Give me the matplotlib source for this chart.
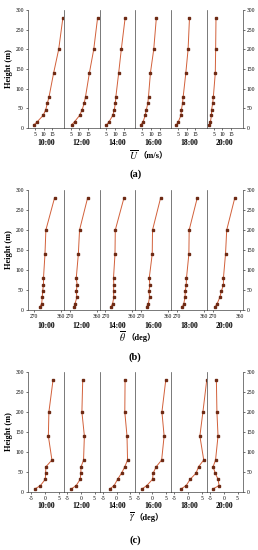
import numpy as np
import matplotlib
matplotlib.use('Agg')
import matplotlib.pyplot as plt

plt.rcParams['font.family'] = ['Liberation Serif', 'Noto Sans CJK SC']
plt.rcParams['mathtext.fontset'] = 'stix'
plt.rcParams['axes.unicode_minus'] = False

# measurement heights (m)
heights = [8, 16, 32, 47, 63, 80, 140, 200, 280]
times = ['10:00', '12:00', '14:00', '16:00', '18:00', '20:00']

# (a) mean wind speed (m/s)
speed = [
    [4.4, 6.3, 9.7, 11.2, 12.1, 13.1, 15.7, 18.6, 21.0],
    [5.5, 7.2, 10.1, 11.6, 12.7, 13.5, 15.7, 18.2, 20.4],
    [5.0, 6.5, 8.6, 9.5, 10.1, 10.4, 12.0, 13.5, 15.7],
    [4.2, 5.5, 6.7, 7.4, 8.2, 8.6, 9.7, 11.6, 13.1],
    [4.0, 5.2, 6.7, 7.0, 7.6, 8.0, 9.5, 10.8, 11.6],
    [2.5, 3.1, 3.7, 3.8, 4.4, 4.8, 5.9, 6.1, 6.3],
]

# (b) mean wind direction (deg)
direction = [
    [290, 296, 298, 299, 302, 302, 307, 310, 339],
    [285, 288, 294, 292, 295, 292, 299, 303, 330],
    [289, 294, 298, 297, 298, 297, 302, 303, 332],
    [288, 294, 298, 296, 299, 297, 307, 308, 335],
    [288, 293, 297, 298, 301, 302, 310, 311, 338],
    [278, 285, 294, 299, 306, 306, 313, 317, 344],
]

# (c) mean attack angle (deg)
attack = [
    [-3.6, -1.7, 0.1, 0.2, 0.3, 2.5, 1.2, 1.4, 2.9],
    [-3.4, -1.7, -0.2, 0.0, 0.1, 1.0, 1.3, 0.4, 0.7],
    [-2.4, -0.9, 0.4, 1.8, 3.0, 4.0, 3.8, 3.0, 3.1],
    [-3.7, -2.0, 0.1, 0.3, 1.4, 3.4, 4.3, 3.5, 4.9],
    [-2.5, -0.7, 0.8, 2.9, 3.8, 5.7, 4.3, 5.4, 6.8],
    [-3.9, -1.7, -2.1, -3.1, -3.9, -3.0, -2.1, -2.5, -2.7],
]

W, H = 258, 550
fig = plt.figure(figsize=(W / 100, H / 100), dpi=100)

line_c = '#d2603a'
mark_c = '#6e2a14'
x0, x1 = 28, 242.5
pw = (x1 - x0) / 6


def panel_row(data, top, bottom, xlim, xticks, sym, unit, tag, time_y, xl_y, tag_y, sym_x):
    for i, vals in enumerate(data):
        ax = fig.add_axes([(x0 + i * pw) / W, 1 - bottom / H, pw / W, (bottom - top) / H])
        ax.plot(vals, heights, color=line_c, lw=0.7, marker='s', ms=1.6,
                mfc=mark_c, mec=mark_c)
        ax.set_xlim(xlim)
        ax.set_ylim(0, 300)
        ax.set_xticks(xticks)
        ax.set_yticks(range(0, 301, 50))
        ax.tick_params(labelsize=4, length=1.5, width=0.4, pad=1.5)
        ax.spines['top'].set_visible(False)
        for s in ['left', 'right', 'bottom']:
            ax.spines[s].set_linewidth(0.5)
            ax.spines[s].set_color('#444444')
        if i == 0:
            ax.tick_params(axis='y', left=True, right=False, labelleft=True)
            ax.set_ylabel('Height (m)', fontsize=6, fontweight='bold', labelpad=2)
        elif i == 5:
            ax.tick_params(axis='y', left=False, right=True, labelleft=False, labelright=True)
        else:
            ax.tick_params(axis='y', left=False, labelleft=False)
        if i < 5:
            ax.spines['right'].set_visible(False)
        fig.text((x0 + (i + 0.5) * pw) / W, 1 - time_y / H, times[i],
                 ha='center', va='center', fontsize=5.5, fontweight='bold')
    # symbol (mathtext) and full-width unit drawn as two texts so the CJK parens render
    fig.text((sym_x + 2) / W, 1 - xl_y / H, sym, ha='right', va='center', fontsize=7, fontweight='bold')
    fig.text((sym_x + 2) / W, 1 - xl_y / H, unit, ha='left', va='center', fontsize=6, fontweight='bold')
    fig.text((x0 + x1) / 2 / W, 1 - tag_y / H, tag, ha='center', va='center',
             fontsize=7.5, fontweight='bold')


panel_row(speed, 10, 128, (1, 21.5), [5, 10, 15], r'$\overline{U}$', '（m/s）', '(a)', 143, 155, 174, 136)
panel_row(direction, 190, 310, (250, 370), [270, 360], r'$\overline{\theta}$', '（deg）', '(b)', 326, 337, 357, 124)
panel_row(attack, 372, 492, (-6.2, 6.8), [-5, 0, 5], r'$\overline{\gamma}$', '（deg）', '(c)', 506, 517, 540, 133)

fig.savefig('out.png', dpi=100)
